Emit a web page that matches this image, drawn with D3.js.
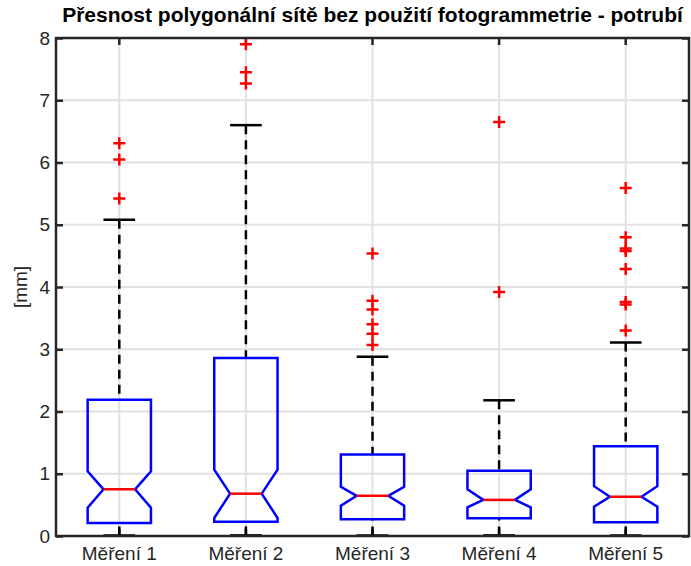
<!DOCTYPE html>
<html>
<head>
<meta charset="utf-8">
<script src="https://cdn.jsdelivr.net/npm/d3@7/dist/d3.min.js"></script>
<style>
  html, body { margin: 0; padding: 0; background: #fff; }
  svg { display: block; font-family: "Liberation Sans", Arial, Helvetica, sans-serif; }
</style>
</head>
<body>
<svg id="chart" width="691" height="566"></svg>
<script>
// Notched box plot of measurement accuracy per measurement run
const titleText = "Přesnost polygonální sítě bez použití fotogrammetrie - potrubí";
const yLabel = "[mm]";
const categories = ["Měření 1", "Měření 2", "Měření 3", "Měření 4", "Měření 5"];
const yTicks = [0, 1, 2, 3, 4, 5, 6, 7, 8];

const q1        = [0.21, 0.23, 0.27, 0.285, 0.22];
const medians   = [0.75, 0.68, 0.645, 0.58, 0.63];
const q3        = [2.19, 2.86, 1.31, 1.05, 1.44];
const notchLo   = [0.455, 0.29, 0.485, 0.46, 0.47];
const notchHi   = [1.04, 1.065, 0.79, 0.75, 0.80];
const whiskerLo = [0.01, 0.01, 0.01, 0.01, 0.01];
const whiskerHi = [5.08, 6.60, 2.88, 2.18, 3.11];
const outliers  = [
  [6.31, 6.05, 5.42],
  [7.90, 7.45, 7.27],
  [4.54, 3.78, 3.64, 3.40, 3.25, 3.07],
  [6.65, 3.92],
  [5.59, 4.80, 4.62, 4.58, 4.29, 3.76, 3.72, 3.30]
];

const W = 691, H = 566;
const m = { left: 56, right: 2, top: 38, bottom: 30 };
const x0 = m.left, x1 = W - m.right, y0 = H - m.bottom, y1 = m.top;

const svg = d3.select("#chart");

const x = d3.scaleBand().domain(categories).range([x0, x1]).paddingInner(0).paddingOuter(0);
const y = d3.scaleLinear().domain([0, 8]).range([y0, y1]);
const cx = c => x(c) + x.bandwidth() / 2;
const boxHalf = x.bandwidth() * 0.25;
const notchHalf = x.bandwidth() * 0.125;
const capHalf = x.bandwidth() * 0.125;

const axisColor = "#262626";
const gridColor = "#e1e1e1";

// grid
const grid = svg.append("g");
grid.selectAll("line.h").data(yTicks.slice(1, -1)).join("line")
  .attr("x1", x0).attr("x2", x1)
  .attr("y1", d => y(d)).attr("y2", d => y(d))
  .attr("stroke", gridColor).attr("stroke-width", 2);
grid.selectAll("line.v").data(categories).join("line")
  .attr("x1", d => cx(d)).attr("x2", d => cx(d))
  .attr("y1", y0).attr("y2", y1)
  .attr("stroke", gridColor).attr("stroke-width", 2);

// axes with inward ticks on all four sides
const tickLen = 7;
const yAxisL = d3.axisRight(y).tickValues(yTicks).tickSize(tickLen).tickFormat("");
const yAxisR = d3.axisLeft(y).tickValues(yTicks).tickSize(tickLen).tickFormat("");
const xAxisB = d3.axisTop(x).tickSize(tickLen).tickFormat("");
const xAxisT = d3.axisBottom(x).tickSize(tickLen).tickFormat("");

function styleAxis(g) {
  g.select(".domain").remove();
  g.selectAll(".tick line").attr("stroke", axisColor).attr("stroke-width", 2.5);
}
svg.append("g").attr("transform", `translate(${x0},0)`).call(yAxisL).call(styleAxis);
svg.append("g").attr("transform", `translate(${x1},0)`).call(yAxisR).call(styleAxis);
svg.append("g").attr("transform", `translate(0,${y0})`).call(xAxisB).call(styleAxis);
svg.append("g").attr("transform", `translate(0,${y1})`).call(xAxisT).call(styleAxis);

// tick labels
svg.append("g").selectAll("text").data(yTicks).join("text")
  .attr("x", x0 - 6).attr("y", d => y(d)).attr("dy", "0.35em")
  .attr("text-anchor", "end").attr("font-size", 19).attr("fill", axisColor)
  .text(d => d);
svg.append("g").selectAll("text").data(categories).join("text")
  .attr("x", d => cx(d)).attr("y", y0 + 24)
  .attr("text-anchor", "middle").attr("font-size", 19).attr("fill", axisColor)
  .text(d => d);

svg.append("text")
  .attr("transform", `translate(20,${(y0 + y1) / 2}) rotate(-90)`)
  .attr("text-anchor", "middle").attr("dy", "0.35em")
  .attr("font-size", 19).attr("fill", axisColor)
  .text(yLabel);

svg.append("text")
  .attr("x", (x0 + x1) / 2).attr("y", 22)
  .attr("text-anchor", "middle").attr("font-size", 21).attr("font-weight", "bold")
  .attr("fill", "#000")
  .text(titleText);

// boxes
const stats = categories.map((c, i) => ({
  c, q1: q1[i], med: medians[i], q3: q3[i], nLo: notchLo[i], nHi: notchHi[i],
  wLo: whiskerLo[i], wHi: whiskerHi[i], out: outliers[i]
}));

const boxes = svg.append("g").selectAll("g").data(stats).join("g");

// whiskers (dashed, drawn from the cap toward the box)
boxes.append("line")
  .attr("x1", d => cx(d.c)).attr("x2", d => cx(d.c))
  .attr("y1", d => y(d.wHi)).attr("y2", d => y(d.q3))
  .attr("stroke", "#000").attr("stroke-width", 2.5).attr("stroke-dasharray", "9,6");
boxes.append("line")
  .attr("x1", d => cx(d.c)).attr("x2", d => cx(d.c))
  .attr("y1", d => y(d.wLo)).attr("y2", d => y(d.q1))
  .attr("stroke", "#000").attr("stroke-width", 2.5).attr("stroke-dasharray", "9,6");

// caps
boxes.append("line")
  .attr("x1", d => cx(d.c) - capHalf).attr("x2", d => cx(d.c) + capHalf)
  .attr("y1", d => y(d.wHi)).attr("y2", d => y(d.wHi))
  .attr("stroke", "#000").attr("stroke-width", 2.5);
boxes.append("line")
  .attr("x1", d => cx(d.c) - capHalf).attr("x2", d => cx(d.c) + capHalf)
  .attr("y1", d => y(d.wLo)).attr("y2", d => y(d.wLo))
  .attr("stroke", "#000").attr("stroke-width", 2.5);

// notched box outline
const line = d3.line();
boxes.append("path")
  .attr("d", d => {
    const c = cx(d.c);
    const L = c - boxHalf, R = c + boxHalf, l = c - notchHalf, r = c + notchHalf;
    return line([
      [L, y(d.q3)], [R, y(d.q3)], [R, y(d.nHi)], [r, y(d.med)], [R, y(d.nLo)],
      [R, y(d.q1)], [L, y(d.q1)], [L, y(d.nLo)], [l, y(d.med)], [L, y(d.nHi)]
    ]) + "Z";
  })
  .attr("fill", "none").attr("stroke", "#0000ff").attr("stroke-width", 2.5)
  .attr("stroke-linejoin", "miter");

// median
boxes.append("line")
  .attr("x1", d => cx(d.c) - notchHalf).attr("x2", d => cx(d.c) + notchHalf)
  .attr("y1", d => y(d.med)).attr("y2", d => y(d.med))
  .attr("stroke", "#ff0000").attr("stroke-width", 2.5);

// outliers as "+" markers
const ps = 6;
boxes.each(function(d) {
  const g = d3.select(this);
  g.selectAll("path.out").data(d.out).join("path")
    .attr("class", "out")
    .attr("d", v => `M${cx(d.c) - ps},${y(v)}H${cx(d.c) + ps}M${cx(d.c)},${y(v) - ps}V${y(v) + ps}`)
    .attr("stroke", "#ff0000").attr("stroke-width", 2.5).attr("fill", "none");
});

// axes frame
svg.append("rect")
  .attr("x", x0).attr("y", y1).attr("width", x1 - x0).attr("height", y0 - y1)
  .attr("fill", "none").attr("stroke", axisColor).attr("stroke-width", 2.5);
</script>
</body>
</html>
